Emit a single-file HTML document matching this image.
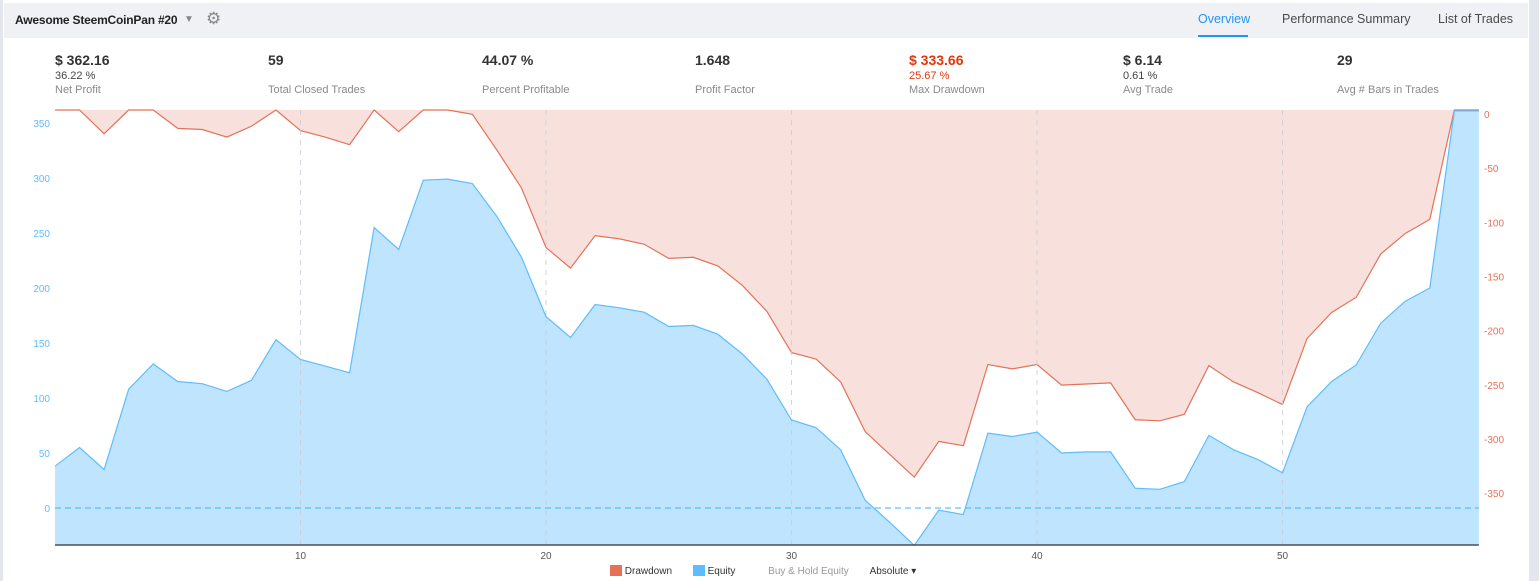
<!DOCTYPE html>
<html><head><meta charset="utf-8"><style>
body{margin:0;width:1539px;height:581px;overflow:hidden;background:#fff;font-family:"Liberation Sans",sans-serif;position:relative}
.abs{position:absolute}
.hdr{left:4px;top:3px;width:1524px;height:35px;background:#f0f1f5}
.tab{top:12px;font-size:12.5px;color:#4a4a4a}
.st{position:absolute;top:52px}
.st .v{font-size:14px;font-weight:bold;color:#333}
.st .p{font-size:11px;color:#444;margin-top:2px;height:13px}
.st .l{font-size:11px;color:#8a8a8a;margin-top:1px}
</style></head><body>
<div class="abs" style="left:0;top:0;width:3px;height:581px;background:#e3e6ec"></div>
<div class="abs" style="left:1529px;top:0;width:10px;height:581px;background:#e3e6ec"></div>
<div class="abs hdr"></div>
<div class="abs" style="left:15px;top:13px;font-size:12px;color:#222;font-weight:bold;letter-spacing:-0.2px">Awesome SteemCoinPan #20</div>
<div class="abs" style="left:184px;top:14px;font-size:10px;color:#888">▼</div>
<div class="abs" style="left:206px;top:9px;font-size:17px;color:#888">⚙</div>
<div class="abs tab" style="left:1198px;color:#2196f3">Overview</div>
<div class="abs" style="left:1198px;top:35px;width:50px;height:2px;background:#2196f3"></div>
<div class="abs tab" style="left:1282px">Performance Summary</div>
<div class="abs tab" style="left:1438px">List of Trades</div>

<div class="st" style="left:55px"><div class="v">$ 362.16</div><div class="p">36.22 %</div><div class="l">Net Profit</div></div>
<div class="st" style="left:268px"><div class="v">59</div><div class="p"></div><div class="l">Total Closed Trades</div></div>
<div class="st" style="left:482px"><div class="v">44.07 %</div><div class="p"></div><div class="l">Percent Profitable</div></div>
<div class="st" style="left:695px"><div class="v">1.648</div><div class="p"></div><div class="l">Profit Factor</div></div>
<div class="st" style="left:909px"><div class="v" style="color:#e0380b">$ 333.66</div><div class="p" style="color:#e0380b">25.67 %</div><div class="l">Max Drawdown</div></div>
<div class="st" style="left:1123px"><div class="v">$ 6.14</div><div class="p">0.61 %</div><div class="l">Avg Trade</div></div>
<div class="st" style="left:1337px"><div class="v">29</div><div class="p"></div><div class="l">Avg # Bars in Trades</div></div>

<svg class="abs" style="left:0;top:0" width="1539" height="581" id="chart"></svg>

<div class="abs" style="left:610px;top:565px;font-size:10px;color:#333;white-space:nowrap">
<span><span style="display:inline-block;width:12px;height:11px;background:#e57159;vertical-align:-2px"></span> Drawdown</span>
<span style="margin-left:18px"><span style="display:inline-block;width:12px;height:11px;background:#5ebdff;vertical-align:-2px"></span> Equity</span>
<span style="margin-left:30px;color:#999">Buy &amp; Hold Equity</span>
<span style="margin-left:18px">Absolute ▾</span>
</div>

<script>
const equity=[38,55,35,108,131,115,113,106,116,153,135,129,123,255,235,298,299,295,265,228,174,155,185,182,178,165,166,158,140,117,80,73,53,7,-13,-34,-2,-6,68,65,69,50,51,51,18,17,24,66,53,44,32,92,115,130,168,188,200,361,361];
const drawdown=[0,0,-22,0,0,-17,-18,-25,-15,0,-19,-25,-32,0,-20,0,0,-4,-37,-72,-127,-146,-116,-119,-124,-137,-136,-144,-162,-186,-224,-230,-251,-297,-318,-339,-306,-310,-235,-239,-235,-254,-253,-252,-286,-287,-281,-236,-251,-261,-272,-211,-187,-173,-133,-114,-101,0,0];
const leftTicks=[0,50,100,150,200,250,300,350];
const rightTicks=[0,-50,-100,-150,-200,-250,-300,-350];
const xTicks=[10,20,30,40,50];

const X0=55,DX=24.55,TOP=110,BOT=545;
const x=i=>X0+DX*i;
const yL=v=>508-v*1.1;
const yR=v=>TOP-v*1.083;
const svg=document.getElementById('chart');
const NS='http://www.w3.org/2000/svg';
function mk(t,a){const e=document.createElementNS(NS,t);for(const k in a)e.setAttribute(k,a[k]);svg.appendChild(e);return e;}
const xEnd=x(equity.length-1);

let dd='M'+x(0)+','+TOP;
drawdown.forEach((v,i)=>dd+=' L'+x(i)+','+yR(v));
dd+=' L'+xEnd+','+TOP+' Z';
let e=mk('path',{d:dd,fill:'#f8e1dc'});


e=mk('polyline',{points:drawdown.map((v,i)=>x(i)+','+yR(v)).join(' '),fill:'none',stroke:'#e57159','stroke-width':1.2});



let ea='M'+x(0)+','+BOT;
equity.forEach((v,i)=>ea+=' L'+x(i)+','+yL(v));
ea+=' L'+xEnd+','+BOT+' Z';
e=mk('path',{d:ea,fill:'#bfe4fd'});



xTicks.forEach(t=>{
  const g=mk('line',{x1:x(t),x2:x(t),y1:TOP,y2:BOT,stroke:'#c8ccd4','stroke-dasharray':'5,5','stroke-width':0.8});
  
  
  const tl=mk('text',{x:x(t),y:BOT+14,'text-anchor':'middle','font-size':10,fill:'#555','font-family':'Liberation Sans'});
  tl.textContent=t;
  
  
});
e=mk('polyline',{points:equity.map((v,i)=>x(i)+','+yL(v)).join(' '),fill:'none',stroke:'#5ebdff','stroke-width':1.2});


e=mk('line',{x1:X0,x2:xEnd,y1:yL(0),y2:yL(0),stroke:'#3fb0ff','stroke-dasharray':'6,4','stroke-width':1});


e=mk('line',{x1:X0,x2:xEnd,y1:BOT,y2:BOT,stroke:'#4a4f57','stroke-width':1.5});



leftTicks.forEach(t=>{
  const tl=mk('text',{x:50,y:yL(t)+4,'text-anchor':'end','font-size':10,fill:'#5ebdff','font-family':'Liberation Sans'});
  tl.textContent=t;
  
  
});
rightTicks.forEach(t=>{
  const tl=mk('text',{x:1484,y:yR(t)+8,'text-anchor':'start','font-size':10,fill:'#e57159','font-family':'Liberation Sans'});
  tl.textContent=t;
  
  
});
</script>
</body></html>
